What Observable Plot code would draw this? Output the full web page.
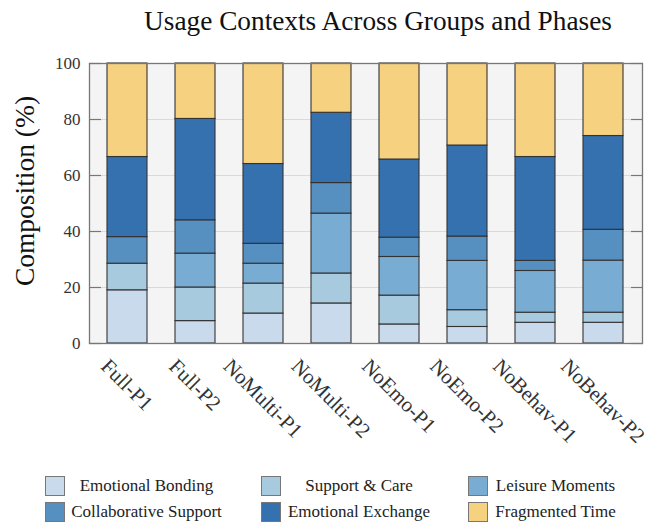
<!DOCTYPE html>
<html><head><meta charset="utf-8">
<script src="https://cdn.jsdelivr.net/npm/d3@7"></script>
<script src="https://cdn.jsdelivr.net/npm/@observablehq/plot@0.6"></script>
<style>
body{margin:0;background:#fff;font-family:"Liberation Serif",serif;}
#wrap{position:relative;width:660px;height:525px;overflow:hidden;}
#title{position:absolute;left:96px;width:564px;top:4px;text-align:center;font-size:27.3px;line-height:34px;color:#111;white-space:nowrap;}
#ylabel{position:absolute;left:25px;top:191px;transform:translate(-50%,-50%) rotate(-90deg);font-size:27.5px;color:#111;white-space:nowrap;}
#chart{position:absolute;left:0;top:0;}
.lg{position:absolute;display:flex;align-items:center;height:20px;}
.sw{width:20px;height:20px;box-sizing:border-box;border:1.3px solid #777;}
.lt{margin-left:6px;text-align:center;font-size:17px;line-height:20px;color:#222;white-space:nowrap;}
</style></head><body><div id="wrap">
<div id="chart"></div>
<div id="title">Usage Contexts Across Groups and Phases</div>
<div id="ylabel">Composition (%)</div>
<div id="legend"></div>
</div>
<script>
const groups = ["Full-P1","Full-P2","NoMulti-P1","NoMulti-P2","NoEmo-P1","NoEmo-P2","NoBehav-P1","NoBehav-P2"];
const categories = ["Emotional Bonding","Support & Care","Leisure Moments","Collaborative Support","Emotional Exchange","Fragmented Time"];
const colors = ["#c9daed","#a8cadf","#79acd3","#5690c1","#3571af","#f6d17f"];
const emotionalBonding     = [19.0, 8.0, 10.7, 14.3, 6.8, 5.9, 7.4, 7.4];
const supportCare          = [9.5, 12.0, 10.7, 10.7, 10.3, 6.0, 3.6, 3.6];
const leisureMoments       = [0.0, 12.1, 7.1, 21.4, 13.8, 17.6, 14.9, 18.6];
const collaborativeSupport = [9.5, 11.9, 7.1, 10.9, 6.9, 8.7, 3.6, 11.0];
const emotionalExchange    = [28.6, 36.2, 28.5, 25.1, 27.9, 32.5, 37.1, 33.5];
const fragmentedTime       = [33.4, 19.8, 35.9, 17.6, 34.3, 29.3, 33.4, 25.9];
const yTicks = [0, 20, 40, 60, 80, 100];

const series = [emotionalBonding, supportCare, leisureMoments, collaborativeSupport, emotionalExchange, fragmentedTime];
const data = groups.flatMap((g, i) => categories.map((c, j) => ({group: g, category: c, value: series[j][i]}))).filter(d => d.value > 0);

const chart = Plot.plot({
  width: 660, height: 460,
  marginLeft: 89, marginRight: 18, marginTop: 63, marginBottom: 117,
  style: {fontFamily: "Liberation Serif", fontSize: "17px", color: "#333", background: "transparent"},
  x: {domain: groups, paddingInner: 0.41, paddingOuter: 0.265, label: null},
  y: {domain: [0, 100], label: null},
  color: {domain: categories, range: colors},
  marks: [
    Plot.frame({fill: "#f4f4f4", stroke: null}),
    Plot.gridY(yTicks, {stroke: "#dadada", strokeOpacity: 1, strokeWidth: 1}),
    Plot.barY(data, Plot.stackY({x: "group", y: "value", fill: "category", order: categories, stroke: "#333", strokeWidth: 1.1})),
    Plot.frame({stroke: "#777", strokeWidth: 1.3}),
    Plot.axisY(yTicks, {anchor: "left", tickSize: 12, dx: 12, fill: "none", stroke: "#777", strokeWidth: 1.2, label: null}),
    Plot.axisY(yTicks, {anchor: "right", tickSize: 12, dx: -12, fill: "none", stroke: "#777", strokeWidth: 1.2, label: null}),
    Plot.axisY(yTicks, {anchor: "left", tickSize: 0, tickPadding: 9, fontSize: 17, fill: "#333", label: null}),
    Plot.axisX({anchor: "bottom", tickSize: 0, tickRotate: 45, textAnchor: "middle", lineAnchor: "middle", tickPadding: 30, fontSize: 21, fill: "#333", label: null})
  ]
});
document.getElementById("chart").appendChild(chart);

// center each rotated x label's bounding box under its bar, with a common top edge
const xs = chart.scale("x");
const svgRect = chart.getBoundingClientRect();
const labelTop = 354;
chart.querySelectorAll('g[aria-label="x-axis tick label"] text').forEach((t) => {
  const r = t.getBoundingClientRect();
  const cx = r.left - svgRect.left + r.width / 2;
  const top = r.top - svgRect.top;
  const target = xs.apply(t.textContent) + xs.bandwidth / 2;
  const dx = target - cx, dy = labelTop - top;
  t.setAttribute("transform", `translate(${dx},${dy}) ` + (t.getAttribute("transform") || ""));
});

// legend
const legend = document.getElementById("legend");
const colLeft = [45, 261, 468];
const rowTop = [476, 502];
const textWidth = [151, 144, 123];
categories.forEach((c, k) => {
  const col = k % 3, row = Math.floor(k / 3);
  const item = document.createElement("div");
  item.className = "lg";
  item.style.left = colLeft[col] + "px";
  item.style.top = rowTop[row] + "px";
  const sw = document.createElement("div");
  sw.className = "sw";
  sw.style.background = colors[k];
  const tx = document.createElement("div");
  tx.className = "lt";
  tx.style.width = textWidth[col] + "px";
  tx.textContent = c;
  item.appendChild(sw); item.appendChild(tx);
  legend.appendChild(item);
});
</script>
</body></html>
